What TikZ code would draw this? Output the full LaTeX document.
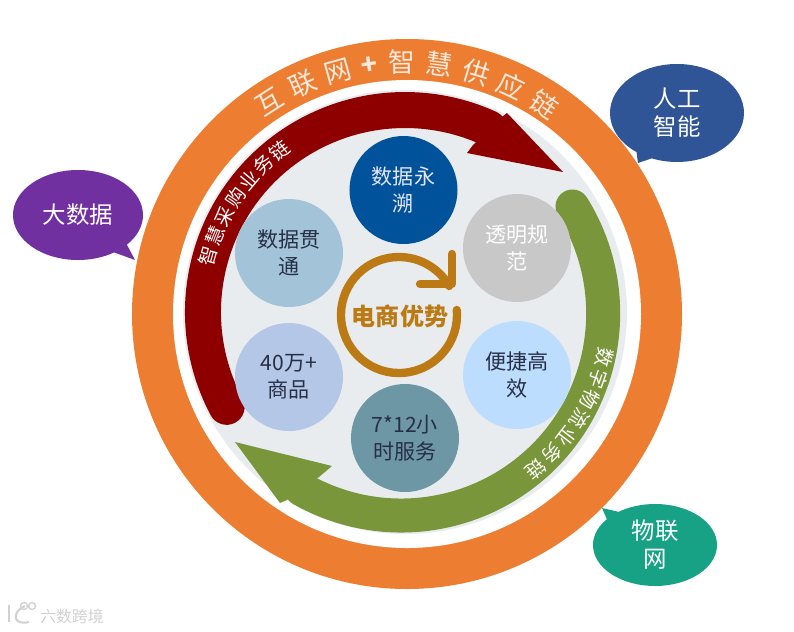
\documentclass[tikz,border=0pt]{standalone}
\usepackage{fontspec}
\usepackage{xcolor}
\usepackage{tikz}
\usetikzlibrary{shapes.callouts,decorations.text}
\setmainfont{Noto Sans CJK SC}

\definecolor{ringorange}{HTML}{ED7D31}
\definecolor{ringtext}{HTML}{FBE9DC}
\definecolor{discgray}{HTML}{E8ECEE}
\definecolor{chainred}{HTML}{8E0000}
\definecolor{chaingreen}{HTML}{7A963A}
\definecolor{spinbrown}{HTML}{BC7A14}
\definecolor{inkdark}{HTML}{262F45}

\tikzset{
  perk/.style={circle, minimum size=3.24cm, inner sep=0pt, align=center,
    font=\fontsize{18}{23}\selectfont},
  bubble/.style={ellipse callout, inner sep=0pt, align=center, text=white,
    font=\fontsize{20}{24}\selectfont},
  bandtext/.style={decoration={text along path, text align={fit to path},
    text={|\fontsize{16.5}{16.5}\selectfont\color{white}|#1}}, decorate}
}

\begin{document}
\begin{tikzpicture}[x=0.03cm, y=0.03cm]
  \useasboundingbox (-405,-319) rectangle (389,312);

  % Outer ring and inner disc
  \fill[ringorange] (2,-2) circle (275);
  \fill[white] (2,-2) circle (234);
  \fill[discgray] (0,0) circle (222);

  % Ring title
  \path[decoration={text along path, text align={fit to path},
      text={|\fontsize{23}{23}\selectfont\color{ringtext}|互联网|\fontsize{23}{23}\selectfont\bfseries\color{ringtext}|+|\fontsize{23}{23}\selectfont\color{ringtext}|智慧供应链}}, decorate]
    (126:240) arc[start angle=126, end angle=53, radius=240];

  % Red band with its head
  \draw[chainred, line width=1.08cm, line cap=round]
    (208:202) arc[start angle=208, end angle=65.5, radius=202];
  \fill[chainred] (158,140) -- (102,199) -- (97,195) -- (68,167) -- (62,159) -- cycle;
  \path[bandtext={智慧采购业务链}]
    (167:197) arc[start angle=167, end angle=125, radius=197];

  % Green band with its head
  \draw[chaingreen, line width=1.02cm, line cap=round]
    (-3,-1) ++(32:201) arc[start angle=32, end angle=-119.5, radius=202];
  \fill[chaingreen] (-170,-130) -- (-73,-154) -- (-86,-165) -- (-118,-188) -- (-125,-191) -- cycle;
  \path[bandtext={数字物流业务链}]
    (-10:197) arc[start angle=-10, end angle=-53, radius=197];

  % Six circles
  \node[perk, fill={rgb,255:red,0;green,82;blue,155}, text=white!90!blue] (trace) at (-1.5,122) {数据永\\溯};
  \node[perk, fill={rgb,255:red,200;green,200;blue,200}, text=white] (clear) at (112,64) {透明规\\范};
  \node[perk, fill={rgb,255:red,189;green,221;blue,255}, text=inkdark] (quick) at (112,-63) {便捷高\\效};
  \node[perk, fill={rgb,255:red,110;green,151;blue,165}, text=inkdark] (hours) at (0,-126) {7*12小\\时服务};
  \node[perk, fill={rgb,255:red,180;green,199;blue,231}, text=inkdark] (goods) at (-116,-65) {40万+\\商品};
  \node[perk, fill={rgb,255:red,163;green,196;blue,216}, text=inkdark] (link) at (-116,59) {数据贯\\通};

  % Turning arrow in the middle
  \draw[spinbrown, line width=0.25cm, line cap=round, line join=round]
    (-6,-3) ++(5:58) arc[start angle=5, end angle=-330, radius=58];
  \draw[spinbrown, line width=0.25cm, line cap=round, line join=round]
    (47,58) -- (47,28) -- (15,28);
  \node[text=spinbrown, font=\fontsize{20.5}{20.5}\selectfont\bfseries] (core) at (-5,-4) {电商优势};

  % Callouts
  \node[bubble, fill={rgb,255:red,112;green,48;blue,160}, minimum width=3.9cm, minimum height=2.7cm,
        callout absolute pointer={(-270,52)}] (bigdata) at (-327,97) {大数据};
  \node[bubble, fill={rgb,255:red,47;green,85;blue,151}, minimum width=4.02cm, minimum height=2.94cm,
        callout absolute pointer={(233,149)}] (smart) at (272,199) {人工\\智能};
  \node[bubble, fill={rgb,255:red,23;green,161;blue,133}, minimum width=3.72cm, minimum height=2.46cm,
        callout absolute pointer={(197,-196)}] (iot) at (250,-233) {物联\\网};

  % Watermark
  \node[text=black!18, font=\fontsize{13.5}{13.5}\selectfont] (mark) at (-333,-304) {六数跨境};
  \draw[black!18, line width=0.06cm] (-396,-293) -- (-396,-310);
  \draw[black!18, line width=0.06cm] (-380,-294) .. controls (-394,-300) and (-392,-314) .. (-376,-310);
  \draw[black!18, line width=0.04cm] (-381,-294) circle (3.5) (-373,-294) circle (3.5);
\end{tikzpicture}
\end{document}
